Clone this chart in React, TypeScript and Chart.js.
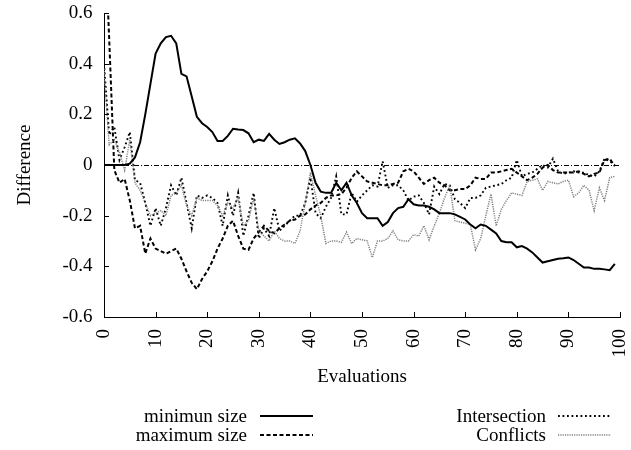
import React, { useEffect, useRef } from 'react';
import { Chart, registerables } from 'chart.js';

Chart.register(...registerables);

const FONT = '"Liberation Serif", "Times New Roman", Times, serif';

const evaluations = [
  0, 1, 2, 3, 4, 5, 6, 7, 8, 9,
  10, 11, 12, 13, 14, 15, 16, 17, 18, 19,
  20, 21, 22, 23, 24, 25, 26, 27, 28, 29,
  30, 31, 32, 33, 34, 35, 36, 37, 38, 39,
  40, 41, 42, 43, 44, 45, 46, 47, 48, 49,
  50, 51, 52, 53, 54, 55, 56, 57, 58, 59,
  60, 61, 62, 63, 64, 65, 66, 67, 68, 69,
  70, 71, 72, 73, 74, 75, 76, 77, 78, 79,
  80, 81, 82, 83, 84, 85, 86, 87, 88, 89,
  90, 91, 92, 93, 94, 95, 96, 97, 98, 99,
];

const minimunSize = [
  0, 0, 0, 0, 0, 0.005, 0.03, 0.09, 0.2, 0.32,
  0.44, 0.48, 0.505, 0.51, 0.48, 0.36, 0.35, 0.27, 0.19, 0.165,
  0.15, 0.13, 0.095, 0.095, 0.115, 0.143, 0.14, 0.138, 0.125, 0.09,
  0.1, 0.095, 0.123, 0.1, 0.083, 0.09, 0.1, 0.105, 0.085, 0.055,
  0, -0.07, -0.105, -0.11, -0.11, -0.07, -0.1, -0.07, -0.12, -0.15,
  -0.19, -0.21, -0.21, -0.21, -0.24, -0.225, -0.19, -0.17, -0.165, -0.135,
  -0.155, -0.16, -0.16, -0.165, -0.175, -0.19, -0.19, -0.19, -0.195, -0.205,
  -0.215, -0.235, -0.25, -0.235, -0.24, -0.255, -0.27, -0.3, -0.305, -0.305,
  -0.325, -0.32, -0.33, -0.345, -0.365, -0.385, -0.38, -0.375, -0.37, -0.368,
  -0.365, -0.375, -0.39, -0.405, -0.405, -0.41, -0.41, -0.412, -0.415, -0.39,
];

const maximumSize = [
  1.0, 0.5, -0.02, -0.07, -0.055, -0.14, -0.25, -0.24, -0.35, -0.29,
  -0.33, -0.34, -0.35, -0.34, -0.33, -0.37, -0.42, -0.465, -0.49, -0.45,
  -0.42, -0.38, -0.33, -0.29, -0.24, -0.22, -0.28, -0.33, -0.335, -0.29,
  -0.265, -0.24, -0.26, -0.27, -0.25, -0.235, -0.22, -0.215, -0.2, -0.195,
  -0.175, -0.16, -0.15, -0.13, -0.12, -0.12, -0.115, -0.09, -0.05, -0.025,
  -0.045, -0.065, -0.07, -0.075, -0.08, -0.08, -0.075, -0.07, -0.025, -0.015,
  -0.025, -0.05, -0.075, -0.06, -0.05, -0.07, -0.08, -0.1, -0.1, -0.095,
  -0.095, -0.08, -0.05, -0.055, -0.055, -0.03, -0.03, -0.025, -0.02, -0.015,
  -0.03, -0.045, -0.06, -0.05, -0.035, -0.01, 0.0, -0.02, -0.03, -0.03,
  -0.03, -0.03, -0.025, -0.035, -0.045, -0.035, -0.03, 0.02, 0.025, -0.005,
];

const intersection = [
  0.4, 0.12, 0.15, 0.02, 0.07, 0.13, -0.06, -0.07, -0.15, -0.24,
  -0.17, -0.24, -0.17, -0.08, -0.12, -0.05, -0.15, -0.25, -0.12, -0.13,
  -0.12, -0.13, -0.15, -0.24, -0.12, -0.2, -0.11, -0.28, -0.2, -0.11,
  -0.29, -0.25, -0.28, -0.17, -0.26, -0.24, -0.22, -0.2, -0.2, -0.15,
  -0.05, -0.19, -0.21, -0.165, -0.13, -0.045, -0.195, -0.195, -0.11, -0.145,
  -0.12, -0.1, -0.08, -0.085, 0.015, -0.09, -0.08, -0.08, -0.1, -0.14,
  -0.125, -0.12, -0.15, -0.195, -0.085, -0.115, -0.075, -0.08, -0.135, -0.15,
  -0.17, -0.13, -0.13, -0.12, -0.09, -0.085, -0.08, -0.075, -0.06, -0.05,
  0.02, -0.045, -0.035, -0.03, -0.015, 0.0, -0.01, 0.025, -0.025, -0.035,
  -0.03, -0.025, -0.03, -0.03, -0.04, -0.045, -0.025, 0.025, 0.015, 0.0,
];

const conflicts = [
  0.38, 0.08, 0.1, 0.05, -0.02, 0.1, -0.07, -0.1, -0.15, -0.2,
  -0.19, -0.18, -0.2, -0.12, -0.11, -0.08, -0.16, -0.2, -0.13, -0.14,
  -0.14, -0.14, -0.16, -0.2, -0.15, -0.17, -0.13, -0.24, -0.22, -0.13,
  -0.26, -0.28, -0.3, -0.26, -0.29, -0.3, -0.3, -0.31, -0.26, -0.15,
  -0.03, -0.12, -0.2, -0.31, -0.3, -0.3, -0.305, -0.265, -0.31, -0.29,
  -0.295, -0.3, -0.365, -0.3, -0.3, -0.29, -0.26, -0.295, -0.3, -0.3,
  -0.275, -0.28, -0.24, -0.295, -0.24, -0.19, -0.13, -0.08, -0.22, -0.225,
  -0.23, -0.235, -0.335, -0.29, -0.2, -0.115, -0.24, -0.175, -0.14, -0.11,
  -0.115, -0.12, -0.065, -0.06, -0.055, -0.1, -0.065, -0.07, -0.075, -0.065,
  -0.06, -0.125, -0.11, -0.08, -0.1, -0.18, -0.09, -0.14, -0.05, -0.045,
];

const seriesNames = ['minimun size', 'maximum size', 'Intersection', 'Conflicts'];
const xTickLabels = ['0', '10', '20', '30', '40', '50', '60', '70', '80', '90', '100'];
const yTickLabels = ['-0.6', '-0.4', '-0.2', '0', '0.2', '0.4', '0.6'];
const xTitle = 'Evaluations';
const yTitle = 'Difference';

const styles = [
  { color: '#000000', width: 2, dash: [] as number[] },
  { color: '#000000', width: 2, dash: [4, 2.5] },
  { color: '#000000', width: 1.9, dash: [1.8, 2.7] },
  { color: '#808080', width: 1.5, dash: [1.2, 1.1] },
];

const legendSlots = [
  { tx: 247, x0: 260, x1: 313, y: 417 },
  { tx: 247, x0: 260, x1: 313, y: 436 },
  { tx: 546, x0: 558, x1: 611, y: 417 },
  { tx: 546, x0: 558, x1: 611, y: 436 },
];

const zeroLinePlugin = {
  id: 'zeroLine',
  beforeDatasetsDraw(chart: any) {
    const { ctx, chartArea, scales } = chart;
    const y = Math.round(scales.y.getPixelForValue(0)) + 0.5;
    ctx.save();
    ctx.strokeStyle = '#000';
    ctx.lineWidth = 1;
    ctx.setLineDash([5, 2, 1, 2]);
    ctx.beginPath();
    ctx.moveTo(chartArea.left, y);
    ctx.lineTo(chartArea.right, y);
    ctx.stroke();
    ctx.restore();
  },
};

const innerTicksPlugin = {
  id: 'innerTicks',
  afterDraw(chart: any) {
    const { ctx, chartArea, scales } = chart;
    ctx.save();
    ctx.strokeStyle = '#000';
    ctx.lineWidth = 1;
    ctx.setLineDash([]);
    ctx.beginPath();
    scales.x.ticks.forEach((t: any) => {
      const px = Math.round(scales.x.getPixelForValue(t.value)) + 0.5;
      ctx.moveTo(px, chartArea.bottom);
      ctx.lineTo(px, chartArea.bottom - 5);
    });
    scales.y.ticks.forEach((t: any) => {
      const py = Math.round(scales.y.getPixelForValue(t.value)) + 0.5;
      ctx.moveTo(chartArea.left, py);
      ctx.lineTo(chartArea.left + 5, py);
    });
    ctx.stroke();
    ctx.restore();
  },
};

const legendPlugin = {
  id: 'gnuLegend',
  afterDraw(chart: any) {
    const ctx = chart.ctx;
    ctx.save();
    ctx.font = `19px ${FONT}`;
    ctx.fillStyle = '#000';
    ctx.textAlign = 'right';
    ctx.textBaseline = 'middle';
    chart.data.datasets.forEach((ds: any, i: number) => {
      const s = legendSlots[i];
      ctx.fillText(ds.label, s.tx, s.y);
      ctx.strokeStyle = ds.borderColor;
      ctx.lineWidth = ds.borderWidth;
      ctx.setLineDash(ds.borderDash || []);
      ctx.beginPath();
      ctx.moveTo(s.x0, s.y - 1);
      ctx.lineTo(s.x1, s.y - 1);
      ctx.stroke();
    });
    ctx.restore();
  },
};

export default function App() {
  const canvasRef = useRef<HTMLCanvasElement | null>(null);

  useEffect(() => {
    document.body.style.margin = '0';
    document.body.style.overflow = 'hidden';
    const canvas = canvasRef.current;
    if (!canvas) return;

    const allSeries = [minimunSize, maximumSize, intersection, conflicts];
    const datasets = allSeries.map((vals, i) => ({
      label: seriesNames[i],
      data: evaluations.map((x, j) => ({ x, y: vals[j] })),
      borderColor: styles[i].color,
      borderWidth: styles[i].width,
      borderDash: styles[i].dash,
      pointRadius: 0,
      tension: 0,
      fill: false,
      order: i === 0 ? 0 : 4 - i,
    }));

    const chart = new Chart(canvas, {
      type: 'line',
      data: { datasets },
      options: {
        responsive: false,
        animation: false,
        events: [],
        layout: { padding: { top: 13, right: 11, bottom: 62, left: 0 } },
        font: { family: FONT, size: 19 },
        plugins: {
          legend: { display: false },
          tooltip: { enabled: false },
        },
        scales: {
          x: {
            type: 'linear',
            min: 0,
            max: 100,
            afterFit: (scale: any) => {
              scale.height = 71;
              scale.paddingLeft = 0;
              scale.paddingRight = 0;
            },
            border: { display: true, color: '#000', width: 1 },
            grid: { display: true, drawOnChartArea: false, drawTicks: false, color: 'rgba(0,0,0,0)' },
            ticks: {
              stepSize: 10,
              autoSkip: false,
              maxRotation: 90,
              minRotation: 90,
              padding: 12,
              color: '#000',
              font: { family: FONT, size: 19 },
              callback: (_v: any, i: number) => xTickLabels[i],
            },
            title: {
              display: true,
              text: xTitle,
              color: '#000',
              font: { family: FONT, size: 19 },
              padding: { top: 0, bottom: 0 },
            },
          },
          y: {
            type: 'linear',
            min: -0.6,
            max: 0.6,
            afterFit: (scale: any) => {
              scale.width = 104;
              scale.paddingTop = 0;
              scale.paddingBottom = 0;
            },
            border: { display: true, color: '#000', width: 1 },
            grid: { display: true, drawOnChartArea: false, drawTicks: false, color: 'rgba(0,0,0,0)' },
            ticks: {
              stepSize: 0.2,
              padding: 11.5,
              color: '#000',
              font: { family: FONT, size: 19 },
              callback: (_v: any, i: number) => yTickLabels[i],
            },
            title: {
              display: true,
              text: yTitle,
              color: '#000',
              font: { family: FONT, size: 19 },
              padding: { top: 14, bottom: 0 },
            },
          },
        },
      },
      plugins: [zeroLinePlugin, innerTicksPlugin, legendPlugin],
    } as any);

    return () => chart.destroy();
  }, []);

  return (
    <div style={{ width: 631, height: 450 }}>
      <canvas ref={canvasRef} width={631} height={450} style={{ display: 'block' }} />
    </div>
  );
}
